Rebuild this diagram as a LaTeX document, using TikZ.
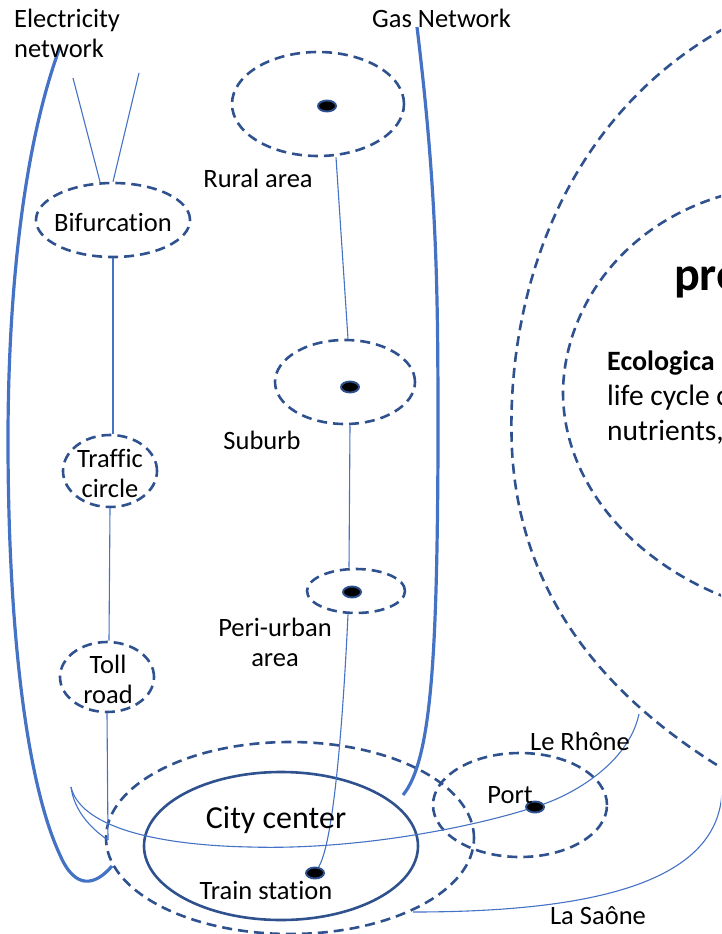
\documentclass[tikz,border=0pt]{standalone}
\usepackage{fontspec}
\setmainfont[Ligatures={NoCommon}]{Carlito}
\usetikzlibrary{shapes.geometric}
\definecolor{dblue}{HTML}{2F528F}
\definecolor{mblue}{HTML}{4472C4}
\begin{document}
\begin{tikzpicture}[x=1pt,y=-1pt,
  font=\fontsize{26.5}{30}\selectfont,
  zone/.style={ellipse, draw=dblue, line width=2.6pt, dash pattern=on 10pt off 6pt, inner sep=0pt},
  dotmark/.style={ellipse, fill=black, draw=dblue, line width=1.9pt, minimum width=18pt, minimum height=11pt, inner sep=0pt},
  thinline/.style={draw=mblue, line width=1.1pt},
  thickline/.style={draw=mblue, line width=3.2pt},
  lbl/.style={inner sep=0pt, align=center}]
\useasboundingbox (0,0) rectangle (721,934);
\clip (0,0) rectangle (721,934);

% ---- zones (dashed ellipses)
\node[zone, minimum width=154pt, minimum height=74pt] (bif) at (113,220) {};
\node[zone, minimum width=94pt, minimum height=72pt] (tc) at (110,471) {};
\node[zone, minimum width=94pt, minimum height=70pt] (toll) at (107,677) {};
\node[zone, minimum width=172pt, minimum height=104pt] (rural) at (318,104) {};
\node[zone, minimum width=140pt, minimum height=84pt] (suburb) at (345,382) {};
\node[zone, minimum width=98pt, minimum height=44pt] (peri) at (356,591) {};
\node[zone, minimum width=368pt, minimum height=192pt] (cityzone) at (290,838) {};
\node[zone, minimum width=174pt, minimum height=104pt] (portzone) at (520,805) {};
\node[ellipse, draw=dblue, line width=2.6pt, inner sep=0pt, minimum width=274pt, minimum height=148pt] (city) at (281,846) {};

% ---- big dashed arcs on the right
\draw[dblue, line width=2.6pt, dash pattern=on 10pt off 6pt]
  (725,28) .. controls (560,120) and (505,300) .. (512,450) .. controls (520,600) and (610,700) .. (725,770);
\draw[dblue, line width=2.6pt, dash pattern=on 10pt off 6pt]
  (725,195) .. controls (620,225) and (565,310) .. (563,390) .. controls (562,480) and (630,560) .. (725,597);

% ---- thick network curves
\draw[thickline] (60,47) .. controls (22,150) and (8,300) .. (8,440) .. controls (8,620) and (25,780) .. (60,855) .. controls (75,890) and (95,886) .. (112,866);
\draw[thickline] (417,27) .. controls (438,200) and (438,300) .. (438,450) .. controls (437,650) and (432,760) .. (403,795);

% ---- dots
\node[dotmark] (rdot) at (327,106) {};
\node[dotmark] (sdot) at (350,387) {};
\node[dotmark] (pdot) at (352,592) {};
\node[dotmark] (portdot) at (535,807) {};
\node[dotmark] (tsdot) at (315,873) {};

% ---- road connectors
\coordinate (e1) at (73,78);
\coordinate (e2) at (139,73);
\coordinate (tollend) at (108,840);
\draw[thinline] (e1) -- ([xshift=-13pt]bif.north);
\draw[thinline] (e2) -- (bif.north);
\draw[thinline] (bif.south) -- ([xshift=3pt]tc.north);
\draw[thinline] (tc.south) -- ([xshift=2pt]toll.north);
\draw[thinline] (toll.south) -- (tollend);

% ---- gas/rail connectors
\draw[thinline] ([xshift=18pt]rural.south) -- ([xshift=3pt]suburb.north);
\draw[thinline] ([xshift=5pt]suburb.south) -- ([xshift=-7pt]peri.north);
\draw[thinline] ([xshift=-8pt]peri.south) .. controls (344,700) and (335,840) .. (tsdot);

% ---- rivers
\coordinate (rh1) at (639,714);
\coordinate (rh2) at (71,787);
\coordinate (rhmid) at (250,847);
\draw[thinline] (rh1) .. controls (628,765) and (570,795) .. (portdot) .. controls (460,830) and (350,850) .. (rhmid) .. controls (150,845) and (80,825) .. (rh2);
\draw[thinline] (rh2) .. controls (74,810) and (90,828) .. (tollend);
\coordinate (sa1) at (722,790);
\coordinate (sa2) at (413,912);
\draw[thinline] (sa1) .. controls (720,880) and (600,912) .. (sa2);

% ---- labels
\node[lbl, anchor=west, align=left] (elec) at (14,33) {Electricity\\network};
\node[lbl, anchor=west] (gas) at (372,18) {Gas Network};
\node[lbl] (tbif) at (113,222) {Bifurcation};
\node[lbl] (ttc) at (110,473) {Traffic\\circle};
\node[lbl] (ttoll) at (108,679) {Toll\\road};
\node[lbl] (trural) at (258,178) {Rural area};
\node[lbl] (tsub) at (262,440) {Suburb};
\node[lbl] (tperi) at (275,642) {Peri-urban\\area};
\node[lbl] (tcity) at (276,820) {\fontsize{32}{36}\selectfont City center};
\node[lbl] (tts) at (266,890) {Train station};
\node[lbl] (tport) at (510,795) {Port};
\node[lbl] (trh) at (580,741) {Le Rhône};
\node[lbl] (tsa) at (598,916) {La Saône};

% ---- clipped text on the right
\node[inner sep=0pt, anchor=base west] (tpre) at (674,290) {\fontsize{48}{52}\selectfont\bfseries pre};
\node[inner sep=0pt, anchor=base west] (teco) at (607,370) {\fontsize{28}{34}\selectfont\bfseries Ecologica};
\node[inner sep=0pt, anchor=base west] (tlife) at (607,405) {\fontsize{29.5}{34}\selectfont life cycle c};
\node[inner sep=0pt, anchor=base west] (tnut) at (607,440) {\fontsize{29.5}{34}\selectfont nutrients,};
\end{tikzpicture}
\end{document}
